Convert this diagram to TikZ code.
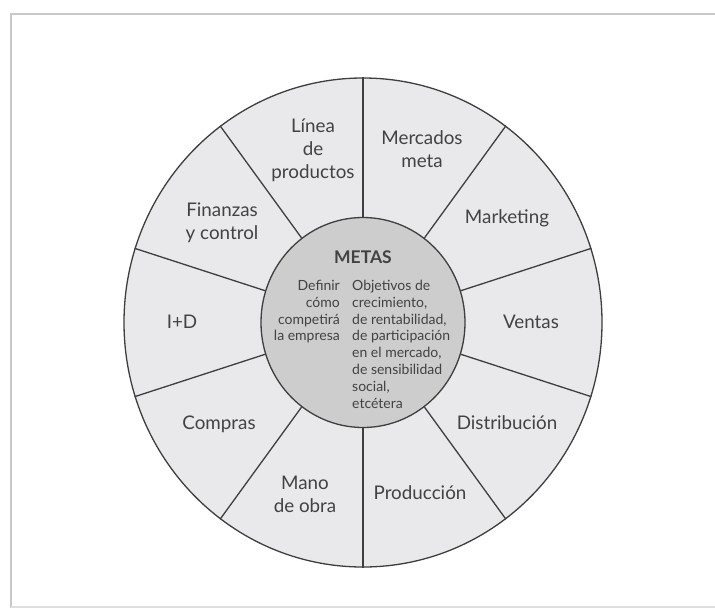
\documentclass[tikz,border=0pt]{standalone}
\usepackage{fontspec}
\setmainfont{Lato}
\usetikzlibrary{shapes.geometric}
\definecolor{sectorfill}{RGB}{233,233,235}
\definecolor{innerfill}{RGB}{205,205,205}
\definecolor{linecol}{RGB}{62,62,62}
\definecolor{textcol}{RGB}{66,66,66}
\definecolor{framecol}{RGB}{200,200,200}
\begin{document}
\begin{tikzpicture}[x=1pt,y=-1pt,
  ring/.style={ellipse, draw=linecol, line width=1.3pt, inner sep=0pt},
  seclabel/.style={align=center, text=textcol, font=\fontsize{18.8}{23}\selectfont, inner sep=0pt},
  goaltext/.style={text=textcol, font=\fontsize{14}{16.8}\selectfont, inner sep=0pt},
  spoke/.style={draw=linecol, line width=1.3pt}
]
\useasboundingbox (0,0) rectangle (715,608);
\fill[white] (0,0) rectangle (715,608);
\draw[framecol, line width=2.5pt] (715,14) -- (11,14) -- (11,608);
\draw[framecol!60, line width=2pt] (11,607) -- (715,607);

\node[ring, fill=sectorfill, minimum width=478pt, minimum height=489pt] (outer) at (363,322.5) {};
\node[ring, fill=innerfill, minimum width=204pt, minimum height=210pt] (inner) at (363,322.5) {};
\foreach \a in {90,54,18,-18,-54,-90,-126,-162,162,126}
  \draw[spoke] (inner.\a) -- (outer.\a);

\node[seclabel] (linea) at (313,150) {Línea\\de\\productos};
\node[seclabel] (mercados) at (422,149) {Mercados\\meta};
\node[seclabel] (marketing) at (507,218) {Marketing};
\node[seclabel] (ventas) at (531,322) {Ventas};
\node[seclabel] (distribucion) at (507,423) {Distribución};
\node[seclabel] (produccion) at (420,493) {Producción};
\node[seclabel] (mano) at (305,494) {Mano\\de obra};
\node[seclabel] (compras) at (219,424) {Compras};
\node[seclabel] (id) at (182,322) {I+D};
\node[seclabel] (finanzas) at (222,223) {Finanzas\\y control};

\node[text=textcol, font=\fontsize{17.5}{20}\selectfont\bfseries, inner sep=0pt] (metas) at (363,257) {METAS};
\node[goaltext, align=right, anchor=north east] (definir) at (340,280)
  {Definir\\cómo\\competirá\\la empresa};
\node[goaltext, align=left, anchor=north west] (objetivos) at (352,280)
  {Objetivos de\\crecimiento,\\de rentabilidad,\\de participación\\en el mercado,\\de sensibilidad\\social,\\etcétera};
\end{tikzpicture}
\end{document}
